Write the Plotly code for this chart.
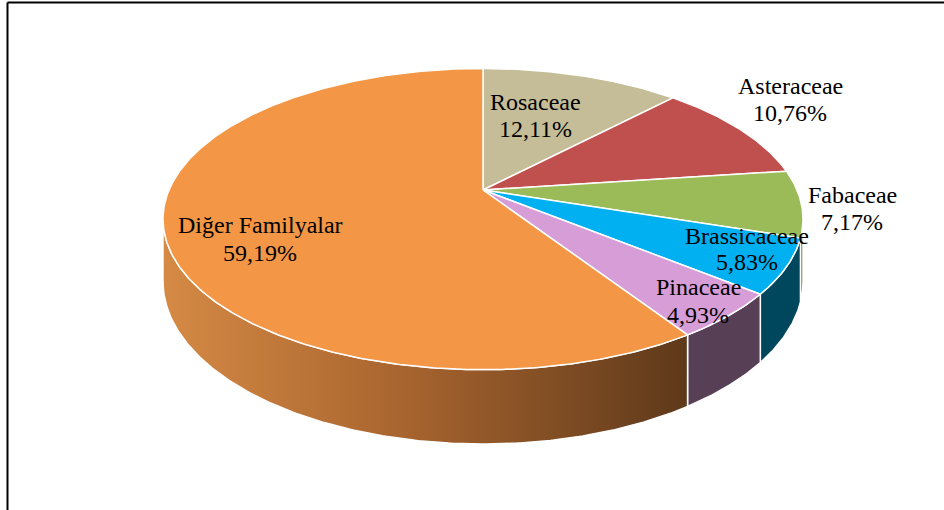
import numpy as np
import plotly.graph_objects as go

# Family shares (%), listed clockwise from 12 o'clock
families = ["Rosaceae", "Asteraceae", "Fabaceae", "Brassicaceae", "Pinaceae", "Diğer Familyalar"]
shares = [12.11, 10.76, 7.17, 5.83, 4.93, 59.19]

# Colours of the top faces and of the visible rim
top_colors = ["#c4bd97", "#c0504d", "#9bbb59", "#00b0f0", "#d69dd6", "#f39646"]
side_colors = ["#8a845f", "#7d2f2d", "#5e7a2c", "#00475e", "#573f56", None]
side_gradient = [[0.0, "#d58a45"], [0.45, "#a9652f"], [1.0, "#5e391a"]]

# Label block centres (x, name line y, value line y) in pixels
label_pos = [
    (535, 102, 129),
    (790, 86, 113),
    (852, 195, 222),
    (747, 236, 262),
    (698, 287, 315),
    (260, 225, 253),
]

# Perspective disk geometry (pixel space)
CX, CY = 483.0, 190.0      # projected pie centre
A, B = 314.0, 145.0        # horizontal / vertical radius factors
K = 0.193                  # perspective foreshortening
DEPTH = 60.0               # thickness of the disk


def project(theta_deg, drop=0.0):
    t = np.radians(theta_deg)
    u, v = np.sin(t), np.cos(t)
    w = 1.0 + K * v
    return CX + A * u / w, CY - B * v / w + drop / w


def arc(a0, a1, drop=0.0):
    n = max(int(abs(a1 - a0) / 0.5), 2)
    th = np.linspace(a0, a1, n + 1)
    return project(th, drop)


# angular limits of the rim seen from the front
theta_left = np.degrees(np.arccos(-K))
theta_right = 360.0 - theta_left

cum = np.concatenate([[0.0], np.cumsum(shares)])
angles = cum / cum[-1] * 360.0

fig = go.Figure()

# Rim (side faces), drawn first
for i, name in enumerate(families):
    a0, a1 = max(angles[i], theta_left), min(angles[i + 1], theta_right)
    if a1 <= a0:
        continue
    xt, yt = arc(a0, a1)
    xb, yb = arc(a1, a0, DEPTH)
    xs = np.concatenate([xt, xb, xt[:1]])
    ys = np.concatenate([yt, yb, yt[:1]])
    kw = dict(fillcolor=side_colors[i])
    if side_colors[i] is None:
        kw = dict(fillgradient=dict(type="horizontal", colorscale=side_gradient,
                                    start=float(xs.min()), stop=float(xs.max())))
    fig.add_trace(go.Scatter(x=xs, y=ys, mode="lines", fill="toself",
                             line=dict(color="white", width=1.5),
                             hoverinfo="skip", showlegend=False, **kw))

# Top faces
for i, name in enumerate(families):
    xa, ya = arc(angles[i], angles[i + 1])
    xs = np.concatenate([[CX], xa, [CX]])
    ys = np.concatenate([[CY], ya, [CY]])
    fig.add_trace(go.Scatter(x=xs, y=ys, mode="lines", fill="toself",
                             fillcolor=top_colors[i],
                             line=dict(color="white", width=1.5),
                             name=name, hoverinfo="skip", showlegend=False))

# Labels
font = dict(family="Liberation Serif, Times New Roman, serif", size=24, color="black")
for name, val, (lx, ly1, ly2) in zip(families, shares, label_pos):
    fig.add_annotation(x=lx, y=ly1, text=name, showarrow=False, font=font,
                       xanchor="center", yanchor="middle")
    fig.add_annotation(x=lx, y=ly2, text=f"{val:.2f}".replace(".", ",") + "%",
                       showarrow=False, font=font, xanchor="center", yanchor="middle")

# Chart frame (left and top edges)
fig.add_shape(type="line", x0=7.5, x1=7.5, y0=2.5, y1=510, line=dict(color="black", width=2))
fig.add_shape(type="line", x0=7.5, x1=944, y0=2.5, y1=2.5, line=dict(color="black", width=2))

fig.update_xaxes(range=[0, 944], visible=False, fixedrange=True)
fig.update_yaxes(range=[510, 0], visible=False, fixedrange=True)
fig.update_layout(width=944, height=510, margin=dict(l=0, r=0, t=0, b=0),
                  paper_bgcolor="white", plot_bgcolor="white")

fig.write_html("out.html", config={"displayModeBar": False})
